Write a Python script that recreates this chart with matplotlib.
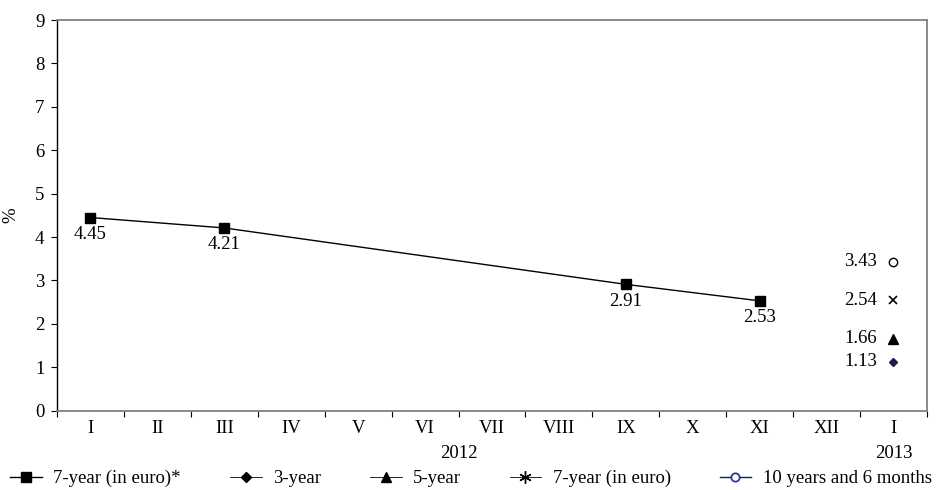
import numpy as np
import matplotlib.pyplot as plt
from matplotlib.lines import Line2D
from matplotlib.transforms import blended_transform_factory

plt.rcParams['font.family'] = ['Liberation Serif', 'DejaVu Serif']

# categories (months) 2012 + Jan 2013
months = ['I', 'II', 'III', 'IV', 'V', 'VI', 'VII', 'VIII', 'IX', 'X', 'XI', 'XII', 'I']
years = ['2012', '2013']

# 7-year (in euro)* series
main_idx = [0, 2, 8, 10]
main_val = [4.45, 4.21, 2.91, 2.53]

# single points in Jan 2013
y3 = 1.13
y5 = 1.66
y7 = 2.54
y10 = 3.43

FS = 13.5

fig = plt.figure(figsize=(9.42, 4.9), dpi=100)
ax = fig.add_axes([0.0605, 0.162, 0.9235, 0.797])

x = np.arange(len(months))
ax.plot(main_idx, main_val, color='black', lw=1, marker='s', ms=6.5, zorder=3)
for i, v in zip(main_idx, main_val):
    ax.annotate(f'{v:.2f}', (i, v), xytext=(0, -6), textcoords='offset points',
                ha='center', va='top', fontsize=FS)

last = len(months) - 1
ax.plot(last, y3, marker='D', ms=4.5, color='#1c1c50', ls='none')
ax.plot(last, y5, marker='^', ms=7, color='black', ls='none')
ax.plot(last, y7, marker='x', ms=5.5, mew=1.2, color='black', ls='none')
ax.plot(last, y10, marker='o', ms=6, mfc='white', mec='black', mew=1, ls='none')
for v in [y3, y5, y7, y10]:
    ax.annotate(f'{v:.2f}', (last, v), xytext=(-12, 0), textcoords='offset points',
                ha='right', va='center', fontsize=FS)

ax.set_xlim(-0.5, last + 0.5)
ax.set_ylim(0, 9)
ax.set_yticks(range(0, 10))
ax.set_xticks(np.arange(-0.5, last + 1, 1))
ax.set_xticklabels([])
ax.set_xticks(x, minor=True)
ax.set_xticklabels(months, minor=True)
ax.tick_params(axis='x', which='minor', length=0, pad=7, labelsize=FS)
ax.tick_params(axis='x', which='major', direction='out', length=4, color='black')
ax.tick_params(axis='y', direction='out', length=4, labelsize=FS, pad=5)
ax.set_ylabel('%', fontsize=FS, labelpad=11)

for s in ['top', 'right', 'bottom']:
    ax.spines[s].set_color('#808080')
    ax.spines[s].set_linewidth(1.3)
ax.spines['left'].set_linewidth(1)

tr = blended_transform_factory(ax.transData, ax.transAxes)
ax.text(5.5, -0.11, years[0], transform=tr, ha='center', va='center', fontsize=FS)
ax.text(12, -0.11, years[1], transform=tr, ha='center', va='center', fontsize=FS)

handles = [
    Line2D([], [], color='black', lw=1, marker='s', ms=6.5),
    Line2D([], [], color='black', lw=0.6, marker='D', ms=5),
    Line2D([], [], color='black', lw=0.6, marker='^', ms=6.5),
    Line2D([], [], color='black', lw=0.6, marker=(6, 2, 0), ms=9, mew=1),
    Line2D([], [], color='#1c1c50', lw=1, marker='o', ms=6, mfc='white', mec='#2a3a9a', mew=1.3),
]
labels = ['7-year (in euro)*', '3-year', '5-year', '7-year (in euro)', '10 years and 6 months']
fig.legend(handles, labels, loc='center', bbox_to_anchor=(0.5, 0.023), ncol=5,
           frameon=False, fontsize=FS, handlelength=1.7, handletextpad=0.6,
           columnspacing=2.6, borderaxespad=0)

fig.savefig('out.png', dpi=100)
